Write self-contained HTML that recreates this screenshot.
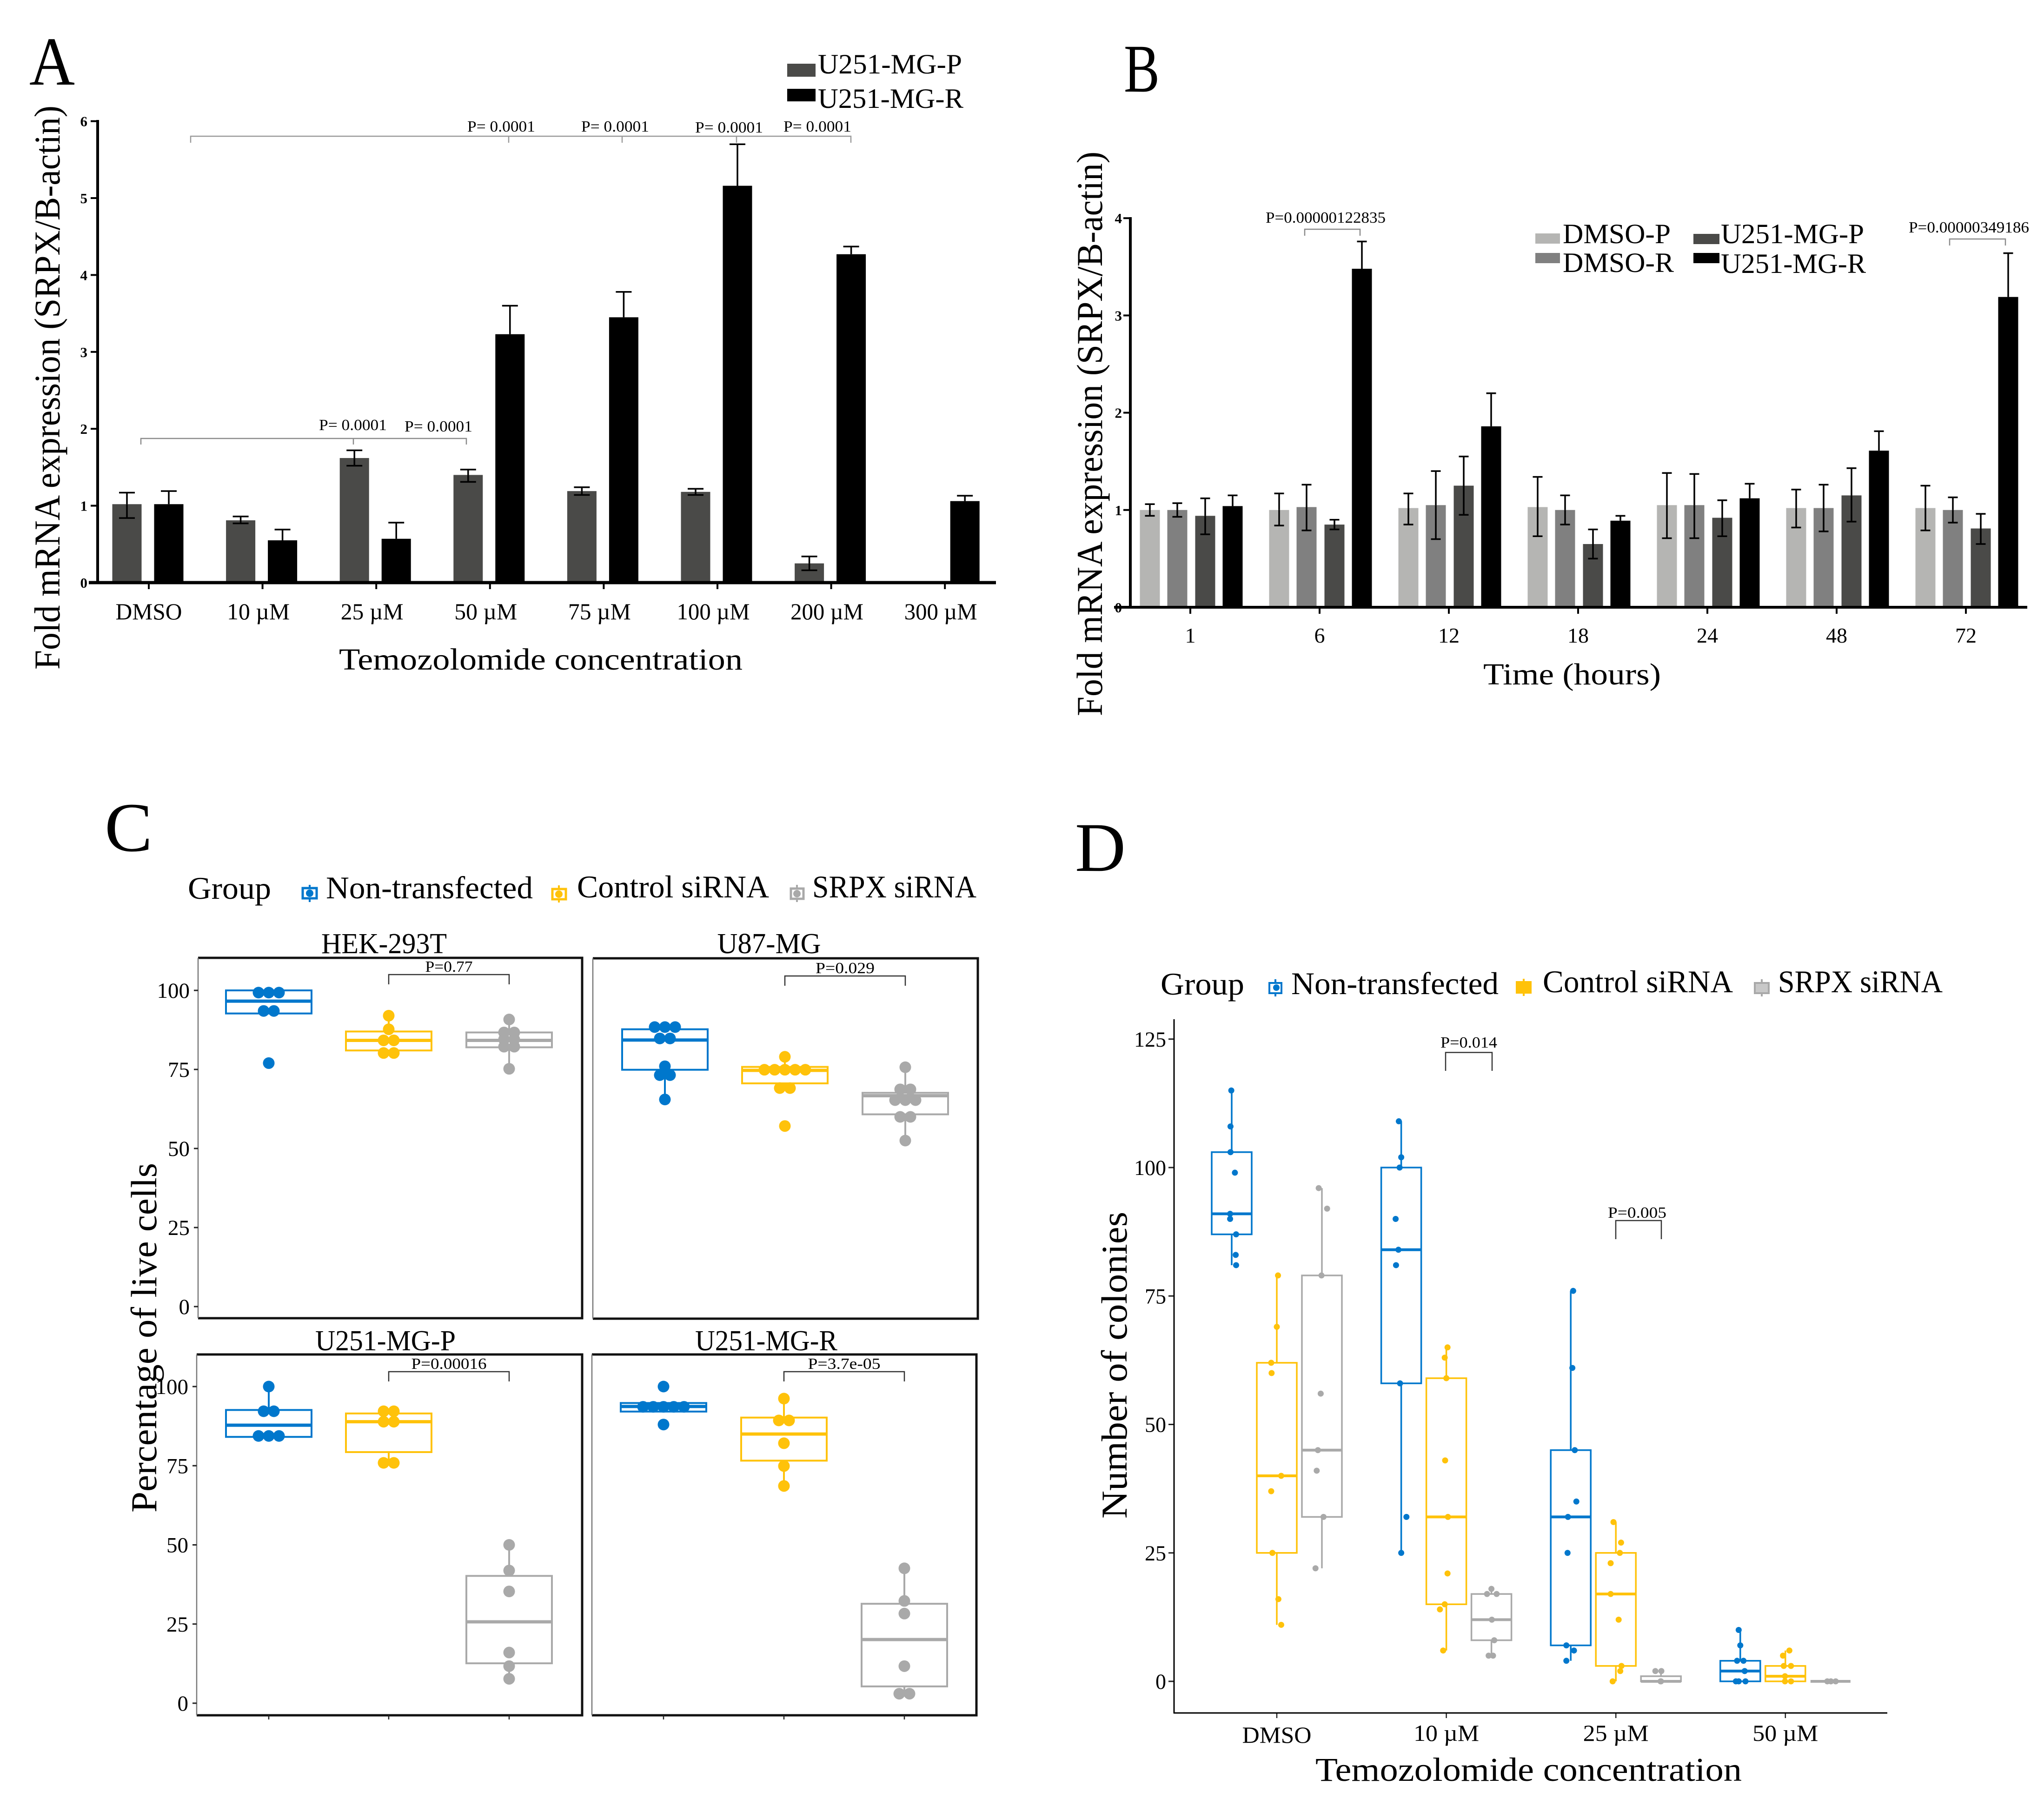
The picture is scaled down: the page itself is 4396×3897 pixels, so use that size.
<!DOCTYPE html>
<html lang="en">
<head>
<meta charset="utf-8">
<title>SRPX expression panels</title>
<style>
html,body{margin:0;padding:0;background:#fff;}
svg{display:block;}
text{font-family:"Liberation Serif",serif;fill:#000;}
</style>
</head>
<body>
<svg id="figure" xmlns="http://www.w3.org/2000/svg" width="4396" height="3897" viewBox="0 0 4396 3897">
<rect x="0" y="0" width="4396" height="3897" fill="#fff"/>

<g id="panelA">
  <text x="63" y="182" font-size="148" textLength="98" lengthAdjust="spacingAndGlyphs">A</text>
  <rect x="1693" y="137" width="61" height="28" fill="#4a4a48"/>
  <text x="1759" y="158" font-size="60" textLength="310" lengthAdjust="spacingAndGlyphs">U251-MG-P</text>
  <rect x="1693" y="191" width="61" height="27" fill="#000"/>
  <text x="1759" y="232" font-size="60" textLength="313" lengthAdjust="spacingAndGlyphs">U251-MG-R</text>
  <text transform="translate(128,1440) rotate(-90)" font-size="78" textLength="1213" lengthAdjust="spacingAndGlyphs">Fold mRNA expression (SRPX/B-actin)</text>
  <text x="729" y="1440" font-size="66" textLength="868" lengthAdjust="spacingAndGlyphs">Temozolomide concentration</text>
  <path d="M410 307V293H1830V307M1094 293V307M1338 293V307M1584 293V307" fill="none" stroke="#9a9a9a" stroke-width="2.5"/>
  <text x="1005" y="283" font-size="34" textLength="146" lengthAdjust="spacingAndGlyphs">P= 0.0001</text>
  <text x="1250" y="283" font-size="34" textLength="146" lengthAdjust="spacingAndGlyphs">P= 0.0001</text>
  <text x="1495" y="285" font-size="34" textLength="146" lengthAdjust="spacingAndGlyphs">P= 0.0001</text>
  <text x="1685" y="283" font-size="34" textLength="146" lengthAdjust="spacingAndGlyphs">P= 0.0001</text>
  <path d="M303 956V943H1003V956M760 943V956" fill="none" stroke="#8a8a8a" stroke-width="2.5"/>
  <text x="686" y="925" font-size="34" textLength="146" lengthAdjust="spacingAndGlyphs">P= 0.0001</text>
  <text x="870" y="928" font-size="34" textLength="146" lengthAdjust="spacingAndGlyphs">P= 0.0001</text>
</g>

<g id="panelB">
  <text x="2417" y="197" font-size="147" textLength="77" lengthAdjust="spacingAndGlyphs">B</text>
  <rect x="3302" y="502" width="53" height="22" fill="#b5b5b3"/>
  <text x="3361" y="523" font-size="60" textLength="232" lengthAdjust="spacingAndGlyphs">DMSO-P</text>
  <rect x="3302" y="544" width="53" height="22" fill="#808080"/>
  <text x="3361" y="585" font-size="60" textLength="239" lengthAdjust="spacingAndGlyphs">DMSO-R</text>
  <rect x="3642" y="503" width="56" height="22" fill="#4a4a48"/>
  <text x="3701" y="523" font-size="60" textLength="308" lengthAdjust="spacingAndGlyphs">U251-MG-P</text>
  <rect x="3642" y="544" width="56" height="22" fill="#000"/>
  <text x="3701" y="587" font-size="60" textLength="312" lengthAdjust="spacingAndGlyphs">U251-MG-R</text>
  <text transform="translate(2370,1540) rotate(-90)" font-size="78" textLength="1214" lengthAdjust="spacingAndGlyphs">Fold mRNA expression (SRPX/B-actin)</text>
  <text x="3190" y="1472" font-size="66" textLength="382" lengthAdjust="spacingAndGlyphs">Time (hours)</text>
  <path d="M2806 507V493H2925V507" fill="none" stroke="#8a8a8a" stroke-width="2.5"/>
  <text x="2722" y="479" font-size="34" textLength="258" lengthAdjust="spacingAndGlyphs">P=0.00000122835</text>
  <path d="M4193 528V514H4313V528" fill="none" stroke="#8a8a8a" stroke-width="2.5"/>
  <text x="4105" y="500" font-size="34" textLength="259" lengthAdjust="spacingAndGlyphs">P=0.00000349186</text>
</g>

<g id="panelC">
  <text x="225" y="1830" font-size="150" textLength="103" lengthAdjust="spacingAndGlyphs">C</text>
  <text x="404" y="1933" font-size="68" textLength="179" lengthAdjust="spacingAndGlyphs">Group</text>
  <g>
    <line x1="666" y1="1903" x2="666" y2="1940" stroke="#0077cc" stroke-width="4"/><rect x="651" y="1910" width="30" height="22" fill="#fff" stroke="#0077cc" stroke-width="5"/><circle cx="666" cy="1921" r="8" fill="#0077cc"/>
  </g>
  <text x="701" y="1932" font-size="68" textLength="445" lengthAdjust="spacingAndGlyphs">Non-transfected</text>
  <g>
    <line x1="1202" y1="1904" x2="1202" y2="1941" stroke="#ffc20a" stroke-width="4"/><rect x="1188" y="1912" width="29" height="22" fill="#fff" stroke="#ffc20a" stroke-width="5"/><circle cx="1202" cy="1923" r="8" fill="#ffc20a"/>
  </g>
  <text x="1241" y="1930" font-size="68" textLength="413" lengthAdjust="spacingAndGlyphs">Control siRNA</text>
  <g>
    <line x1="1714" y1="1903" x2="1714" y2="1940" stroke="#a9a9a9" stroke-width="4"/><rect x="1701" y="1911" width="27" height="22" fill="#fff" stroke="#a9a9a9" stroke-width="5"/><circle cx="1714" cy="1922" r="8" fill="#a9a9a9"/>
  </g>
  <text x="1747" y="1930" font-size="68" textLength="353" lengthAdjust="spacingAndGlyphs">SRPX siRNA</text>
  <text transform="translate(336,3253) rotate(-90)" font-size="78" textLength="752" lengthAdjust="spacingAndGlyphs">Percentage of live cells</text>
</g>

<g id="panelD">
  <text x="2312" y="1873" font-size="150" textLength="109" lengthAdjust="spacingAndGlyphs">D</text>
  <text x="2496" y="2139" font-size="68" textLength="180" lengthAdjust="spacingAndGlyphs">Group</text>
  <g>
    <line x1="2743" y1="2106" x2="2743" y2="2143" stroke="#0077cc" stroke-width="4"/><rect x="2730" y="2114" width="26" height="22" fill="#fff" stroke="#0077cc" stroke-width="4"/><circle cx="2745" cy="2124" r="7" fill="#0077cc"/>
  </g>
  <text x="2777" y="2138" font-size="68" textLength="446" lengthAdjust="spacingAndGlyphs">Non-transfected</text>
  <g>
    <line x1="3277" y1="2105" x2="3277" y2="2142" stroke="#ffc20a" stroke-width="4"/><rect x="3262" y="2112" width="30" height="23" fill="#ffc20a" stroke="#ffc20a" stroke-width="4"/>
  </g>
  <text x="3318" y="2134" font-size="68" textLength="409" lengthAdjust="spacingAndGlyphs">Control siRNA</text>
  <g>
    <line x1="3789" y1="2106" x2="3789" y2="2143" stroke="#a9a9a9" stroke-width="4"/><rect x="3774" y="2114" width="30" height="22" fill="#c8c8c8" stroke="#a9a9a9" stroke-width="4"/>
  </g>
  <text x="3824" y="2134" font-size="68" textLength="354" lengthAdjust="spacingAndGlyphs">SRPX siRNA</text>
  <text transform="translate(2423,3266) rotate(-90)" font-size="78" textLength="660" lengthAdjust="spacingAndGlyphs">Number of colonies</text>
  <text x="2829" y="3830" font-size="72" textLength="917" lengthAdjust="spacingAndGlyphs">Temozolomide concentration</text>
  <path d="M3109 2303V2263.5H3209V2303" fill="none" stroke="#333" stroke-width="2.5"/>
  <text x="3098" y="2253" font-size="34" textLength="122" lengthAdjust="spacingAndGlyphs">P=0.014</text>
  <path d="M3475 2665V2625H3573V2665" fill="none" stroke="#333" stroke-width="2.5"/>
  <text x="3458" y="2619" font-size="34" textLength="126" lengthAdjust="spacingAndGlyphs">P=0.005</text>
</g>
</svg>

<script>
/* ---------- Panel A data ---------- */
const aCategories = ['DMSO','10 µM','25 µM','50 µM','75 µM','100 µM','200 µM','300 µM'];
const aYTicks = [0,1,2,3,4,5,6];
const aParental = [1.02,0.81,1.62,1.40,1.19,1.18,0.25,null];
const aParentalHigh = [1.17,0.86,1.72,1.47,1.24,1.22,0.34,null];
const aParentalLow = [0.84,0.77,1.52,1.31,1.14,1.14,0.16,null];
const aResistant = [1.02,0.55,0.57,3.23,3.45,5.16,4.27,1.06];
const aResistantHigh = [1.19,0.69,0.78,3.60,3.78,5.70,4.37,1.13];

/* ---------- Panel B data ---------- */
const bHours = ['1','6','12','18','24','48','72'];
const bYTicks = [0,1,2,3,4];
const bDmsoP = [1.00,1.00,1.02,1.03,1.05,1.02,1.02];
const bDmsoPHigh = [1.06,1.17,1.17,1.34,1.38,1.21,1.25];
const bDmsoPLow = [0.94,0.84,0.85,0.73,0.71,0.82,0.79];
const bDmsoR = [1.00,1.03,1.05,1.00,1.05,1.02,1.00];
const bDmsoRHigh = [1.07,1.26,1.40,1.15,1.37,1.26,1.13];
const bDmsoRLow = [0.93,0.79,0.70,0.85,0.71,0.78,0.87];
const bU251P = [0.94,0.85,1.25,0.65,0.92,1.15,0.81];
const bU251PHigh = [1.12,0.90,1.55,0.80,1.10,1.43,0.96];
const bU251PLow = [0.75,0.80,0.95,0.50,0.73,0.88,0.65];
const bU251R = [1.04,3.48,1.86,0.89,1.12,1.61,3.19];
const bU251RHigh = [1.15,3.76,2.20,0.94,1.27,1.81,3.64];

/* ---------- Panel C data ---------- */
const cYTicks = [0,25,50,75,100];
const hekBlue = [99.3,99.3,99.3,93.5,93.5,77];
const hekBlueBox = [92.7,96.6,100];
const hekYellow = [92,87.7,84.2,84.2,80.2,80.2];
const hekYellowBox = [81,84.2,87];
const hekGray = [90.8,86.7,86.7,84.5,84.5,82.2,82.2,75.2];
const hekGrayBox = [82,84.2,86.7];
const u87Blue = [88.4,88.4,88.4,84.8,84.8,76,74.3,73.2,73.2,65.5];
const u87BlueBox = [74.9,84.3,87.7];
const u87Yellow = [79,74.9,74.9,74.9,74.9,74.9,69.1,69.1,57.1];
const u87YellowBox = [70.6,74.7,75.8];
const u87Gray = [75.7,68.7,68.7,65.3,65.3,65.3,60,60,52.5];
const u87GrayBox = [60.8,66.7,67.6];
const parentalBlue = [100,92.2,92.2,84.4,84.4,84.4];
const parentalBlueBox = [84.1,87.8,92.6];
const parentalYellow = [92.2,92.2,88.9,88.9,75.9,75.9];
const parentalYellowBox = [79.3,88.9,91.5];
const parentalGray = [50,41.9,35.3,16,11.7,7.7];
const parentalGrayBox = [12.6,25.7,40.2];
const resistantBlue = [100,93.6,93.6,93.6,93.6,93.6,88];
const resistantBlueBox = [92.1,93.7,94.8];
const resistantYellow = [96.2,89.3,89.3,82.1,74.9,68.6];
const resistantYellowBox = [76.6,85,90.2];
const resistantGray = [42.6,32.3,28.3,11.7,3,3];
const resistantGrayBox = [5.3,20.1,31.4];

/* ---------- Panel D data (jitter = percent of box width) ---------- */
const dCategories = ['DMSO','10 µM','25 µM','50 µM'];
const dYTicks = [0,25,50,75,100,125];
const dDmsoBlue = [115,108,103,99,91,90,87,83,81];
const dDmsoBlueJitter = [-1,-3,-3,8,-4,-4,11,10,11];
const dDmsoBlueBox = [87,91,103];
const dDmsoYellow = [79,69,62,60,40,37,25,16,11];
const dDmsoYellowJitter = [3,0,-14,-13,11,-14,-11,4,11];
const dDmsoYellowBox = [25,40,62];
const dDmsoGray = [96,92,79,56,45,41,32,22];
const dDmsoGrayJitter = [-8,13,-1,-3,-10,-13,4,-16];
const dDmsoGrayBox = [32,45,79];
const d10Blue = [109,102,100,90,84,81,58,32,25];
const d10BlueJitter = [-6,0,-4,-14,-7,-13,-3,13,0];
const d10BlueBox = [58,84,100];
const d10Yellow = [65,63,59,43,32,21,15,14,6];
const d10YellowJitter = [3,-4,0,-3,4,3,-4,-16,-8];
const d10YellowBox = [15,32,59];
const d10Gray = [18,17,17,12,8,5,5];
const d10GrayJitter = [0,-11,13,1,7,-7,4];
const d10GrayBox = [8,12,17];
const d25Blue = [76,61,45,35,32,25,7,6,4];
const d25BlueJitter = [6,4,10,14,-7,-8,-11,8,-11];
const d25BlueBox = [7,32,45];
const d25Yellow = [31,27,25,23,17,12,3,2,0];
const d25YellowJitter = [-6,13,10,-13,-13,7,14,11,-8];
const d25YellowBox = [3,17,25];
const d25Gray = [2,2,0,0];
const d25GrayJitter = [-14,1,0,-1];
const d25GrayBox = [0,0,1];
const d50Blue = [10,7,4,4,2,0,0,0];
const d50BlueJitter = [-4,0,-8,8,11,-11,-4,13];
const d50BlueBox = [0,2,4];
const d50Yellow = [6,5,3,3,1,0,0];
const d50YellowJitter = [10,-6,-4,14,-1,-1,14];
const d50YellowBox = [0,1,3];
const d50Gray = [0,0,0];
const d50GrayJitter = [-8,1,13];
const d50GrayBox = [0,0,0];

/* ---------- helpers ---------- */
const SVGNS = 'http://www.w3.org/2000/svg';
const BLUE = '#0077cc', YELLOW = '#ffc20a', GRAY = '#a9a9a9';

function make(parent, tag, props, text) {
  const node = document.createElementNS(SVGNS, tag);
  for (const k in props) node.setAttribute(k, props[k]);
  if (text !== undefined) node.textContent = text;
  parent.appendChild(node);
  return node;
}
function line(parent, x1, y1, x2, y2, color, w) {
  return make(parent, 'line', {x1, y1, x2, y2, stroke: color, 'stroke-width': w});
}
function label(parent, str, x, y, size, anchor, len, weight) {
  const props = {x, y, 'font-size': size, 'text-anchor': anchor};
  if (len) { props.textLength = len; props.lengthAdjust = 'spacingAndGlyphs'; }
  if (weight) props['font-weight'] = weight;
  return make(parent, 'text', props, str);
}

/* Linear axis functions */
const aY = v => 1253 - v * 165.4;
const aX = i => 320 + i * 244.6;
const bY = v => 1306 - v * 209.2;
const bX = i => 2560 + i * 278;
const hekY = v => 2810 - v * 6.8;
const lowerY = v => 3663 - v * 6.81;
const dY = v => 3616 - v * 11.05;
const dX = i => 2746 + i * 364.6;

/* ---------- Panel A ---------- */
const panelA = document.getElementById('panelA');
function drawBar(parent, cx, w, value, high, low, color, scaleY, capW, name) {
  if (value === null) return;
  const bar = make(parent, 'rect', {x: cx - w / 2, y: scaleY(value), width: w, height: scaleY(0) - scaleY(value), fill: color});
  
  
  const errTop = line(parent, cx, scaleY(value), cx, scaleY(high), '#000', 3.5);
  
  
  const cap = line(parent, cx - capW / 2, scaleY(high), cx + capW / 2, scaleY(high), '#000', 3.5);
  
  
  if (low !== null) {
    const errLow = line(parent, cx, scaleY(value), cx, scaleY(low), '#000', 3.5);
    
    
    const capLow = line(parent, cx - capW / 2, scaleY(low), cx + capW / 2, scaleY(low), '#000', 3.5);
    
    
  }
}
aCategories.forEach((c, i) => {
  drawBar(panelA, aX(i) - 47, 63, aParental[i], aParentalHigh[i], aParentalLow[i], '#4a4a48', aY, 34, 'bar-parental-' + i);
  drawBar(panelA, aX(i) + 43, 63, aResistant[i], aResistantHigh[i], null, '#000', aY, 34, 'bar-resistant-' + i);
  const tick = line(panelA, aX(i), 1253, aX(i), 1267, '#000', 4);
  
  
  const cx = i === 0 ? aX(i) : aX(i) - 9;
  const t = label(panelA, c, cx, 1332, 50, 'middle', i === 0 ? 143 : (c.length > 5 ? 157 : 135));
  
  
});
aYTicks.forEach(v => {
  const tick = line(panelA, 195, aY(v), 210, aY(v), '#000', 4);
  
  
  const t = label(panelA, String(v), 188, aY(v) + 11, 31, 'end', null, 'bold');
  
  
});
const aAxisY = line(panelA, 210, 258, 210, 1256, '#000', 6);


const aAxisX = line(panelA, 191, 1253, 2142, 1253, '#000', 7);



/* ---------- Panel B ---------- */
const panelB = document.getElementById('panelB');
bHours.forEach((h, i) => {
  const c = bX(i) + 2;
  drawBar(panelB, c - 89, 43, bDmsoP[i], bDmsoPHigh[i], bDmsoPLow[i], '#b5b5b3', bY, 21, 'bar-dmso-p-' + h);
  drawBar(panelB, c - 30, 43, bDmsoR[i], bDmsoRHigh[i], bDmsoRLow[i], '#808080', bY, 21, 'bar-dmso-r-' + h);
  drawBar(panelB, c + 30, 43, bU251P[i], bU251PHigh[i], bU251PLow[i], '#4a4a48', bY, 21, 'bar-u251-p-' + h);
  drawBar(panelB, c + 89, 43, bU251R[i], bU251RHigh[i], null, '#000', bY, 21, 'bar-u251-r-' + h);
  const tick = line(panelB, bX(i), 1306, bX(i), 1320, '#000', 4);
  
  
  const t = label(panelB, h, bX(i), 1382, 46, 'middle');
  
  
});
bYTicks.forEach(v => {
  const tick = line(panelB, 2416, bY(v), 2431, bY(v), '#000', 4);
  
  
  const t = label(panelB, String(v), 2413, bY(v) + 11, 31, 'end', null, 'bold');
  
  
});
const bAxisY = line(panelB, 2431, 467, 2431, 1309, '#000', 6);


const bAxisX = line(panelB, 2396, 1306, 4360, 1306, '#000', 6);



/* ---------- Box + dot drawing shared by C and D ---------- */
function whiskerEnds(points, box) {
  const iqr = box[2] - box[0];
  const inUp = points.filter(p => p <= box[2] + 1.5 * iqr);
  const inLow = points.filter(p => p >= box[0] - 1.5 * iqr);
  return [Math.min(box[0], Math.min.apply(null, inLow)), Math.max(box[2], Math.max.apply(null, inUp))];
}
function drawBox(parent, cx, halfW, box, points, scaleY, color, lw, medW, name) {
  const ends = whiskerEnds(points, box);
  const wUp = line(parent, cx, scaleY(box[2]), cx, scaleY(ends[1]), color, lw);
  
  
  const wLow = line(parent, cx, scaleY(box[0]), cx, scaleY(ends[0]), color, lw);
  
  
  const rect = make(parent, 'rect', {x: cx - halfW, y: scaleY(box[2]), width: 2 * halfW, height: scaleY(box[0]) - scaleY(box[2]), fill: 'none', stroke: color, 'stroke-width': lw});
  
  
  const med = line(parent, cx - halfW, scaleY(box[1]), cx + halfW, scaleY(box[1]), color, medW);
  
  
}

/* ---------- Panel C ---------- */
const panelC = document.getElementById('panelC');
function drawFacet(title, titleX, titleW, titleBase, left, right, top, bottom, scaleY, xs, series, pText, pW, bracketTop, showBottomTicks, showYTicks) {
  const tt = label(panelC, title, titleX, titleBase, 62, 'middle', titleW);
  
  
  const frame = make(panelC, 'path', {d: `M${left} ${top}H${right}V${bottom}H${left}`, fill: 'none', stroke: '#111', 'stroke-width': 5});
  
  
  const leftEdge = line(panelC, left, top, left, bottom, '#777', 2.5);
  
  
  const colors = [BLUE, YELLOW, GRAY];
  series.forEach((s, k) => {
    drawBox(panelC, xs[k], 92, s.box, s.points, scaleY, colors[k], 4, 7, title + '-group-' + k);
    const counts = {};
    s.points.forEach(p => { counts[p] = (counts[p] || 0) + 1; });
    const seen = {};
    s.points.forEach(p => {
      seen[p] = (seen[p] || 0) + 1;
      const dx = (seen[p] - 1 - (counts[p] - 1) / 2) * 22;
      const dot = make(panelC, 'circle', {cx: xs[k] + dx, cy: scaleY(p), r: 12.5, fill: colors[k]});
      
      
    });
  });
  const br = make(panelC, 'path', {d: `M${xs[1]} ${bracketTop + 21}V${bracketTop}H${xs[2]}V${bracketTop + 21}`, fill: 'none', stroke: '#333', 'stroke-width': 2.5});
  
  
  const pt = label(panelC, pText, (xs[1] + xs[2]) / 2, bracketTop - 6, 34, 'middle', pW);
  
  
  if (showYTicks) {
    cYTicks.forEach(v => {
      const tick = line(panelC, left - 9, scaleY(v), left, scaleY(v), '#222', 3);
      
      
      const t = label(panelC, String(v), left - 18, scaleY(v) + 16, 47, 'end', String(v).length * 23.5);
      
      
    });
  }
  if (showBottomTicks) {
    xs.forEach(x => {
      const tick = line(panelC, x, bottom, x, bottom + 9, '#222', 2.5);
      
      
    });
  }
}
drawFacet('HEK-293T', 826, 270, 2050, 426, 1252, 2060, 2835, hekY, [578, 836, 1095],
  [{points: hekBlue, box: hekBlueBox}, {points: hekYellow, box: hekYellowBox}, {points: hekGray, box: hekGrayBox}],
  'P=0.77', 102, 2096, false, true);
drawFacet('U87-MG', 1654, 223, 2050, 1275, 2103, 2061, 2836, hekY, [1430, 1688, 1947],
  [{points: u87Blue, box: u87BlueBox}, {points: u87Yellow, box: u87YellowBox}, {points: u87Gray, box: u87GrayBox}],
  'P=0.029', 127, 2099, false, false);
drawFacet('U251-MG-P', 829, 302, 2904, 423, 1252, 2913, 3689, lowerY, [578, 836, 1095],
  [{points: parentalBlue, box: parentalBlueBox}, {points: parentalYellow, box: parentalYellowBox}, {points: parentalGray, box: parentalGrayBox}],
  'P=0.00016', 162, 2950, true, true);
drawFacet('U251-MG-R', 1648, 306, 2904, 1273, 2100, 2913, 3689, lowerY, [1427, 1686, 1945],
  [{points: resistantBlue, box: resistantBlueBox}, {points: resistantYellow, box: resistantYellowBox}, {points: resistantGray, box: resistantGrayBox}],
  'P=3.7e-05', 156, 2950, true, false);

/* ---------- Panel D ---------- */
const panelD = document.getElementById('panelD');
const dSeries = [
  [[dDmsoBlue,dDmsoBlueJitter,dDmsoBlueBox],[dDmsoYellow,dDmsoYellowJitter,dDmsoYellowBox],[dDmsoGray,dDmsoGrayJitter,dDmsoGrayBox]],
  [[d10Blue,d10BlueJitter,d10BlueBox],[d10Yellow,d10YellowJitter,d10YellowBox],[d10Gray,d10GrayJitter,d10GrayBox]],
  [[d25Blue,d25BlueJitter,d25BlueBox],[d25Yellow,d25YellowJitter,d25YellowBox],[d25Gray,d25GrayJitter,d25GrayBox]],
  [[d50Blue,d50BlueJitter,d50BlueBox],[d50Yellow,d50YellowJitter,d50YellowBox],[d50Gray,d50GrayJitter,d50GrayBox]]
];
const dColors = [BLUE, YELLOW, GRAY];
dCategories.forEach((c, i) => {
  dSeries[i].forEach((s, k) => {
    const cx = dX(i) + (k - 1) * 97;
    drawBox(panelD, cx, 43, s[2], s[0], dY, dColors[k], 3.5, 6, 'box-' + c + '-' + k);
    s[0].forEach((v, j) => {
      const dot = make(panelD, 'circle', {cx: cx + s[1][j] / 100 * 86, cy: dY(v), r: 6.5, fill: dColors[k]});
      
      
    });
  });
  const tick = line(panelD, dX(i), 3684, dX(i), 3695, '#222', 2.5);
  
  
  const t = label(panelD, c, dX(i), i === 0 ? 3748 : 3744, 50, 'middle', i === 0 ? 149 : 141);
  
  
});
dYTicks.forEach(v => {
  const tick = line(panelD, 2513, dY(v), 2525, dY(v), '#222', 3);
  
  
  const t = label(panelD, String(v), 2508, dY(v) + 16, 47, 'end', String(v).length * 23);
  
  
});
const dAxisY = line(panelD, 2525, 2192, 2525, 3685, '#000', 3);


const dAxisX = line(panelD, 2524, 3684, 4059, 3684, '#000', 3);


</script>
</body>
</html>
